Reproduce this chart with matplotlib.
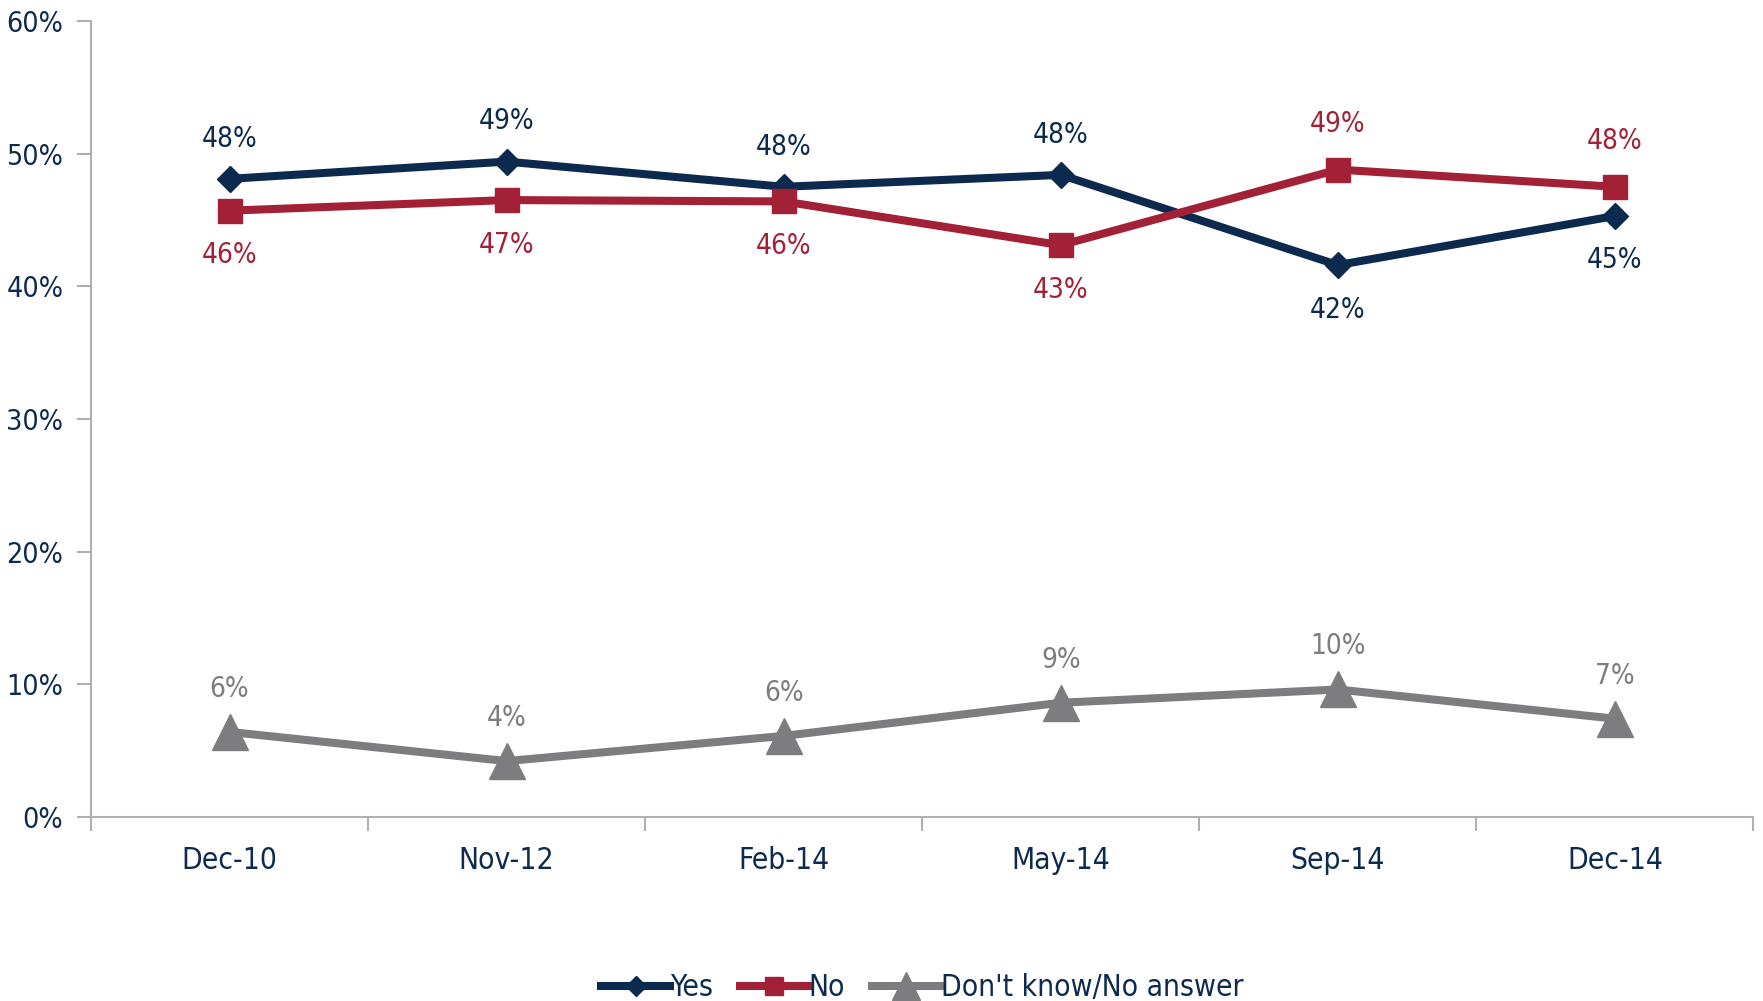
import numpy as np
import matplotlib.pyplot as plt
from matplotlib.ticker import FuncFormatter

plt.rcParams['font.family'] = ['DejaVu Sans']

periods = ['Dec-10', 'Nov-12', 'Feb-14', 'May-14', 'Sep-14', 'Dec-14']
yes_vals = [48.1, 49.4, 47.5, 48.4, 41.6, 45.3]
no_vals = [45.7, 46.5, 46.4, 43.1, 48.8, 47.5]
dk_vals = [6.4, 4.2, 6.1, 8.6, 9.6, 7.4]
yes_labels = ['48%', '49%', '48%', '48%', '42%', '45%']
no_labels = ['46%', '47%', '46%', '43%', '49%', '48%']
dk_labels = ['6%', '4%', '6%', '9%', '10%', '7%']

navy = '#0b2a4e'
red = '#a32136'
gray = '#7d7d80'
txt = '#0d2a4f'

fig = plt.figure(figsize=(17.63, 10.01), dpi=100)
ax = fig.add_axes([0.0516, 0.184, 0.943, 0.795])

x = np.arange(len(periods))
ax.plot(x, yes_vals, color=navy, lw=5.8, marker='D', ms=13, label='Yes', zorder=3)
ax.plot(x, no_vals, color=red, lw=5.8, marker='s', ms=17, label='No', zorder=3)
ax.plot(x, dk_vals, color=gray, lw=5.8, marker='^', ms=26, label="Don't know/No answer", zorder=3)

fs = 20
fsx = 21.5
fst = 'condensed'
# Yes above, No below except where No is higher
for i in range(len(x)):
    yes_up = yes_vals[i] >= no_vals[i]
    ax.annotate(yes_labels[i], (x[i], yes_vals[i]), xytext=(0, 29 if yes_up else -32),
                textcoords='offset points', ha='center', va='center',
                color=navy, fontsize=fs, fontstretch=fst)
    ax.annotate(no_labels[i], (x[i], no_vals[i]), xytext=(0, -32 if yes_up else 33),
                textcoords='offset points', ha='center', va='center',
                color=red, fontsize=fs, fontstretch=fst)
    ax.annotate(dk_labels[i], (x[i], dk_vals[i]), xytext=(0, 31),
                textcoords='offset points', ha='center', va='center',
                color=gray, fontsize=fs, fontstretch=fst)

ax.set_ylim(0, 60)
ax.set_xlim(-0.5, len(x) - 0.5)
ax.set_yticks(np.arange(0, 61, 10))
ax.yaxis.set_major_formatter(FuncFormatter(lambda v, p: f'{v:.0f}%'))
ax.set_xticks(np.arange(-0.5, len(x), 1.0))
ax.set_xticklabels([])
ax.set_xticks(x, minor=True)
ax.set_xticklabels(periods, minor=True)

for s in ['top', 'right']:
    ax.spines[s].set_visible(False)
for s in ['left', 'bottom']:
    ax.spines[s].set_color('#b0b0b4')
    ax.spines[s].set_linewidth(1.5)
ax.tick_params(axis='y', which='major', length=10, width=1.5, color='#b0b0b4',
               labelsize=fs + 0.5, labelcolor=txt, pad=10)
ax.tick_params(axis='x', which='major', length=10, width=1.5, color='#b0b0b4')
ax.tick_params(axis='x', which='minor', length=0, labelsize=fsx, labelcolor=txt, pad=21)
for lab in ax.get_yticklabels() + ax.get_xticklabels(minor=True):
    lab.set_fontstretch(fst)

leg = ax.legend(loc='center', bbox_to_anchor=(0.5, -0.215), ncol=3, frameon=False,
                fontsize=fsx, handlelength=2.3, handletextpad=0.0, columnspacing=0.9,
                markerscale=0.8)
for t in leg.get_texts():
    t.set_color(txt)
    t.set_fontstretch(fst)

fig.savefig('out.png', dpi=100)
